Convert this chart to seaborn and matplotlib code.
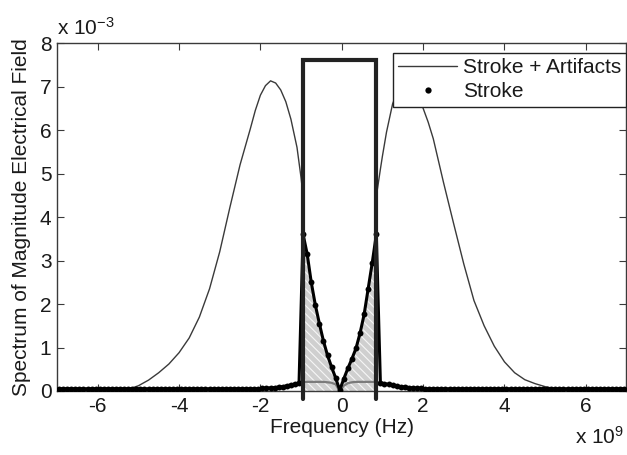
import numpy as np
import pandas as pd
import matplotlib
matplotlib.use("Agg")
import matplotlib.pyplot as plt
from matplotlib.lines import Line2D
import seaborn as sns

# ---- data (frequency in units of 1e9 Hz, magnitude in units of 1e-3) ----
# Stroke + Artifacts: left and right lobes, outside the pass band
art_left_f = [-7.0, -6.0, -5.5, -5.25, -5.0, -4.75, -4.5, -4.25, -4.0, -3.75,
              -3.5, -3.25, -3.0, -2.75, -2.5, -2.25, -2.125, -2.0, -1.875,
              -1.75, -1.625, -1.5, -1.375, -1.25, -1.1, -1.0, -0.95]
art_left_v = [0.0, 0.0, 0.01, 0.04, 0.12, 0.25, 0.42, 0.62, 0.88, 1.22,
              1.70, 2.35, 3.20, 4.22, 5.20, 6.02, 6.45, 6.80, 7.02,
              7.13, 7.08, 6.92, 6.65, 6.25, 5.60, 4.90, 4.47]
art_right_f = [0.85, 0.95, 1.0, 1.1, 1.25, 1.375, 1.5, 1.625, 1.75, 1.875,
               2.0, 2.125, 2.25, 2.5, 2.75, 3.0, 3.25, 3.5, 3.75, 4.0,
               4.25, 4.5, 4.75, 5.0, 5.25, 5.5, 6.0, 7.0]
art_right_v = [4.47, 5.10, 5.40, 5.95, 6.60, 6.90, 7.08, 7.15, 7.08, 6.85,
               6.50, 6.18, 5.80, 4.80, 3.85, 2.92, 2.08, 1.50, 1.03, 0.67,
               0.42, 0.26, 0.17, 0.10, 0.05, 0.02, 0.0, 0.0]

# Stroke samples on a 0.1e9 Hz grid from -6.95 to 6.95
stroke_f = np.round(np.arange(-69.5, 70.0, 1.0) / 10.0, 2)
stroke_v = [
    0.05, 0.05, 0.05, 0.05, 0.05, 0.05, 0.05, 0.05, 0.05, 0.05,
    0.05, 0.05, 0.05, 0.05, 0.05, 0.05, 0.05, 0.05, 0.05, 0.05,
    0.05, 0.05, 0.05, 0.05, 0.05, 0.05, 0.05, 0.05, 0.05, 0.05,
    0.05, 0.05, 0.05, 0.05, 0.05, 0.05, 0.05, 0.05, 0.05, 0.05,
    0.05, 0.05, 0.05, 0.05, 0.05, 0.05, 0.05, 0.05, 0.05, 0.05,
    0.06, 0.07, 0.07, 0.08, 0.09, 0.10, 0.12, 0.14, 0.16, 0.19,
    3.60,
    3.15, 2.50, 1.98, 1.55, 1.15, 0.82, 0.55, 0.30, 0.02,
    0.28, 0.52, 0.74, 0.98, 1.33, 1.76, 2.35, 2.95,
    3.60,
    0.19, 0.17, 0.15, 0.13, 0.11, 0.10, 0.09, 0.08, 0.07, 0.06, 0.06,
    0.05, 0.05, 0.05, 0.05, 0.05, 0.05, 0.05, 0.05, 0.05, 0.05,
    0.05, 0.05, 0.05, 0.05, 0.05, 0.05, 0.05, 0.05, 0.05, 0.05,
    0.05, 0.05, 0.05, 0.05, 0.05, 0.05, 0.05, 0.05, 0.05, 0.05,
    0.05, 0.05, 0.05, 0.05, 0.05, 0.05, 0.05, 0.05, 0.05, 0.05,
    0.05, 0.05, 0.05, 0.05, 0.05, 0.05, 0.05, 0.05, 0.05, 0.05,
]

# In-band stroke level (grey trace inside the window)
band_f = [-0.95, -0.85, -0.75, -0.65, -0.55, -0.45, -0.35, -0.25, -0.15, -0.05,
          0.05, 0.15, 0.25, 0.35, 0.45, 0.55, 0.65, 0.75, 0.85]
band_v = [0.21, 0.21, 0.21, 0.21, 0.21, 0.21, 0.20, 0.19, 0.15, 0.0,
          0.12, 0.18, 0.20, 0.21, 0.21, 0.21, 0.21, 0.21, 0.21]

# Rectangular pass-band window
window_edges = [-0.95, 0.85]
window_height = 7.6

x_ticks = [-6, -4, -2, 0, 2, 4, 6]
y_ticks = [0, 1, 2, 3, 4, 5, 6, 7, 8]

# ---- style ----
sns.set_style("ticks")
plt.rcParams.update({
    "font.family": ["Liberation Sans", "DejaVu Sans"],
    "mathtext.fontset": "custom",
    "mathtext.rm": "Liberation Sans",
    "mathtext.default": "regular",
    "xtick.direction": "in",
    "ytick.direction": "in",
    "xtick.top": True,
    "ytick.right": True,
    "axes.edgecolor": "#3a3a3a",
    "axes.linewidth": 1.0,
    "xtick.color": "#3a3a3a",
    "ytick.color": "#3a3a3a",
    "xtick.labelcolor": "#1a1a1a",
    "ytick.labelcolor": "#1a1a1a",
})

FS = 15
fig = plt.figure(figsize=(6.27, 4.55), dpi=100)
ax = fig.add_axes([57 / 627, 64 / 455, 1 - 57 / 627 - 0.0008, 348 / 455])

stroke_df = pd.DataFrame({"f": stroke_f, "v": stroke_v})
inside = (stroke_df["f"] >= window_edges[0]) & (stroke_df["f"] <= window_edges[1])
in_df = stroke_df[inside]

# hatched area under the in-band stroke spectrum
plt.rcParams["hatch.linewidth"] = 0.8
ax.fill_between(in_df["f"], 0, in_df["v"], facecolor="#cfcfcf",
                edgecolor="#f6f6f6", hatch="\\\\\\\\", linewidth=0, zorder=1)

# grey in-band trace
sns.lineplot(x=band_f, y=band_v, ax=ax, color="#7a7a7a", linewidth=1.6,
             sort=False, zorder=2)

# Stroke + Artifacts
sns.lineplot(x=art_left_f, y=art_left_v, ax=ax, color="#3a3a3a",
             linewidth=1.0, sort=False, zorder=3)
sns.lineplot(x=art_right_f, y=art_right_v, ax=ax, color="#3a3a3a",
             linewidth=1.0, sort=False, zorder=3)

# Stroke (dense point markers)
sns.lineplot(data=stroke_df, x="f", y="v", ax=ax, color="black",
             linewidth=2.2, marker=".", markersize=8.5, markeredgewidth=0,
             sort=False, zorder=4)

# window outline
wx = [window_edges[0], window_edges[0], window_edges[1], window_edges[1]]
wy = [-0.18, window_height, window_height, -0.18]
ax.plot(wx, wy, color="#222222", linewidth=3.0, solid_joinstyle="miter",
        clip_on=False, zorder=5)

ax.set_xlim(-7, 7)
ax.set_ylim(0, 8)
ax.set_xticks(x_ticks)
ax.set_yticks(y_ticks)
ax.set_xticklabels([str(t) for t in x_ticks], fontsize=FS)
ax.set_yticklabels([str(t) for t in y_ticks], fontsize=FS)
ax.tick_params(axis="both", length=5, width=0.8, pad=4)

ax.set_xlabel("Frequency (Hz)", fontsize=FS, color="#1a1a1a", labelpad=2)
ax.set_ylabel("Spectrum of Magnitude Electrical Field", fontsize=FS,
              color="#1a1a1a", labelpad=6)

# MATLAB-style exponent labels
ax.text(0.0, 1.012, r"x 10$^{-3}$", transform=ax.transAxes, fontsize=FS,
        color="#1a1a1a", ha="left", va="bottom")
ax.text(0.995, -0.152, r"x 10$^{9}$", transform=ax.transAxes, fontsize=FS,
        color="#1a1a1a", ha="right", va="baseline")

handles = [
    Line2D([], [], color="#3a3a3a", linewidth=1.0),
    Line2D([], [], color="black", marker=".", linestyle="none",
           markersize=9, markeredgewidth=0),
]
leg = ax.legend(handles, ["Stroke + Artifacts", "Stroke"], loc="upper right",
                bbox_to_anchor=(1.0, 338 / 348), borderaxespad=0,
                fontsize=FS, frameon=True, fancybox=False, framealpha=1.0,
                facecolor="white", handlelength=2.8,
                handletextpad=0.3, borderpad=0.25, labelspacing=0.25,
                edgecolor="#222222")
leg.get_frame().set_linewidth(1.0)
leg.set_zorder(10)
for t in leg.get_texts():
    t.set_color("#1a1a1a")

fig.savefig("out.png", dpi=100)
